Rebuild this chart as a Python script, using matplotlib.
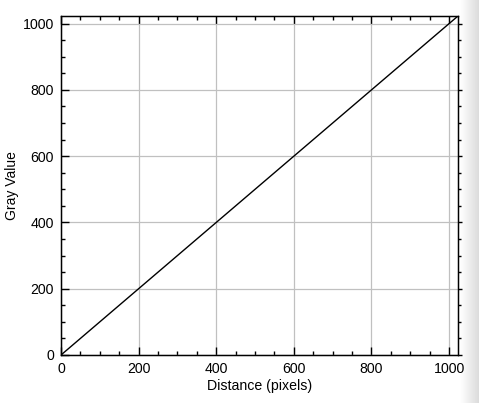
import numpy as np
import matplotlib
matplotlib.use('Agg')
import matplotlib.pyplot as plt
from matplotlib.ticker import MultipleLocator

# profile: distance along line vs gray value
distance = [0, 1023]
gray_value = [0, 1023]
x_ticks = [0, 200, 400, 600, 800, 1000]
y_ticks = [0, 200, 400, 600, 800, 1000]

plt.rcParams['font.family'] = ['Liberation Sans', 'DejaVu Sans']

fig = plt.figure(figsize=(4.79, 4.03), dpi=100)

# gray shading strip at right edge (behind everything)
strip = fig.add_axes([460/479, 0, 19/479, 1], zorder=-5)
strip.imshow(np.linspace(1.0, 0.86, 64).reshape(1, -1), cmap='gray',
             vmin=0, vmax=1, aspect='auto', extent=[0, 1, 0, 1])
strip.axis('off')

ax = fig.add_axes([61/479, 48/403, 397/479, 339/403])
ax.patch.set_alpha(0)

ax.plot(distance, gray_value, color='black', lw=1.0)
ax.set_xlim(0, 1023)
ax.set_ylim(0, 1023)
ax.set_xticks(x_ticks)
ax.set_yticks(y_ticks)
ax.xaxis.set_minor_locator(MultipleLocator(50))
ax.yaxis.set_minor_locator(MultipleLocator(50))
ax.grid(True, which='major', color='#c0c0c0', lw=0.9)
ax.set_axisbelow(True)

ax.tick_params(which='both', direction='in', top=True, right=False,
               labelsize=10.2, width=1.0, colors='black', pad=5)
ax.tick_params(which='major', length=6)
ax.tick_params(which='minor', length=3)
for s in ax.spines.values():
    s.set_linewidth(1.0)

# right side ticks drawn outward
ax2 = ax.twinx()
ax2.set_ylim(0, 1023)
ax2.set_yticks(y_ticks)
ax2.yaxis.set_minor_locator(MultipleLocator(50))
ax2.tick_params(which='both', direction='out', labelright=False, width=1.0)
ax2.tick_params(which='major', length=3)
ax2.tick_params(which='minor', length=2)

ax.set_xlabel('Distance (pixels)', fontsize=10.2, labelpad=2)
ax.set_ylabel('Gray Value', fontsize=10, va='center')
ax.yaxis.set_label_coords(-49/397, 0.5)

fig.savefig('out.png', dpi=100)
